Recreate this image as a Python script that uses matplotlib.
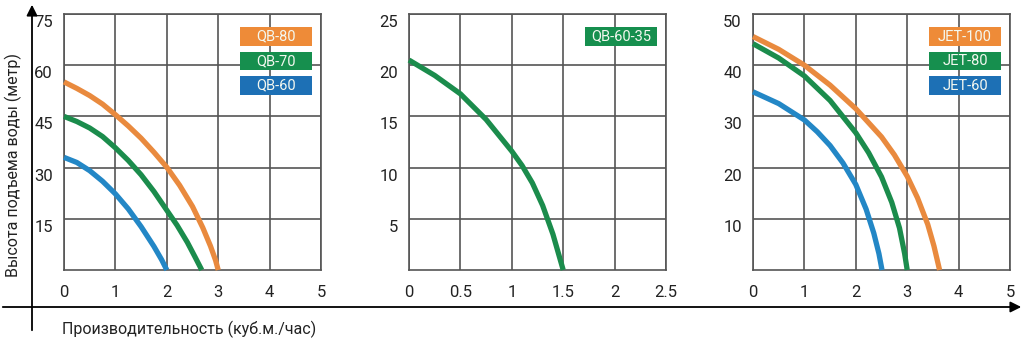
import matplotlib
matplotlib.use("Agg")
import matplotlib.pyplot as plt
from matplotlib.patches import Rectangle
from matplotlib.transforms import ScaledTranslation

plt.rcParams['font.family'] = ['Roboto', 'DejaVu Sans']

# --- data (flow m3/h, head m) ---
qb80_x = [0, 0.25, 0.5, 0.75, 1, 1.25, 1.5, 1.75, 2, 2.25, 2.5, 2.7, 2.85, 2.95, 3.0]
qb80_y = [55.1, 53.2, 51.1, 48.6, 45.5, 42.2, 38.6, 34.5, 30.1, 24.8, 18.6, 12.4, 7.0, 2.8, 0]
qb70_x = [0, 0.25, 0.5, 0.75, 1, 1.25, 1.5, 1.75, 2, 2.2, 2.4, 2.55, 2.68]
qb70_y = [45, 43.5, 41.6, 39.1, 35.8, 32.1, 27.9, 23.0, 17.5, 13.1, 8.1, 3.8, 0]
qb60_x = [0, 0.25, 0.5, 0.75, 1, 1.25, 1.5, 1.75, 1.9, 2.0]
qb60_y = [33, 31.5, 29.1, 26.0, 22.3, 17.9, 12.7, 6.9, 3.0, 0]

qb6035_x = [0, 0.25, 0.5, 0.75, 1.0, 1.1, 1.2, 1.3, 1.4, 1.5]
qb6035_y = [20.5, 19.0, 17.2, 14.7, 11.6, 10.2, 8.5, 6.3, 3.5, 0]

jet100_x = [0, 0.5, 1, 1.5, 2, 2.5, 2.75, 3, 3.2, 3.4, 3.52, 3.63]
jet100_y = [45.6, 43.1, 40.0, 36.1, 31.5, 26.0, 22.5, 18.3, 14.1, 8.9, 4.7, 0]
jet80_x = [0, 0.5, 1, 1.5, 2, 2.25, 2.5, 2.7, 2.85, 2.95, 3.0]
jet80_y = [44.2, 41.4, 37.9, 33.1, 26.8, 22.9, 18.2, 13.2, 8.2, 3.2, 0]
jet60_x = [0, 0.5, 1, 1.25, 1.5, 1.75, 2, 2.2, 2.35, 2.45, 2.51]
jet60_y = [34.8, 32.5, 29.3, 27.0, 24.3, 20.9, 16.7, 11.9, 7.2, 3.2, 0]

ORANGE = '#e98a3e'
GREEN = '#1b8c4c'
BLUE = '#2387c6'
BOX_ORANGE = '#ee8b38'
BOX_GREEN = '#168f4e'
BOX_BLUE = '#1d70b5'
GRID = '#555555'

panels = [
    dict(left=64, xmax=5, xticks=[0, 1, 2, 3, 4, 5], xlabels=['0', '1', '2', '3', '4', '5'],
         ymax=75, yticks=[15, 30, 45, 60, 75],
         curves=[(qb80_x, qb80_y, ORANGE), (qb70_x, qb70_y, GREEN), (qb60_x, qb60_y, BLUE)],
         legend=[('QB-80', BOX_ORANGE), ('QB-70', BOX_GREEN), ('QB-60', BOX_BLUE)]),
    dict(left=409, xmax=2.5, xticks=[0, 0.5, 1, 1.5, 2, 2.5], xlabels=['0', '0.5', '1', '1.5', '2', '2.5'],
         ymax=25, yticks=[5, 10, 15, 20, 25],
         curves=[(qb6035_x, qb6035_y, GREEN)],
         legend=[('QB-60-35', BOX_GREEN)]),
    dict(left=753, xmax=5, xticks=[0, 1, 2, 3, 4, 5], xlabels=['0', '1', '2', '3', '4', '5'],
         ymax=50, yticks=[10, 20, 30, 40, 50],
         curves=[(jet100_x, jet100_y, ORANGE), (jet80_x, jet80_y, GREEN), (jet60_x, jet60_y, BLUE)],
         legend=[('JET-100', BOX_ORANGE), ('JET-80', BOX_GREEN), ('JET-60', BOX_BLUE)]),
]

W, H = 1032, 344
fig = plt.figure(figsize=(W / 100, H / 100), dpi=100)

for p in panels:
    ax = fig.add_axes([p['left'] / W, (H - 270) / H, 257 / W, 256 / H])
    ax.set_xlim(0, p['xmax'])
    ax.set_ylim(0, p['ymax'])
    ax.set_xticks(p['xticks'])
    ax.set_xticklabels(p['xlabels'])
    ax.set_yticks(p['yticks'])
    ax.grid(True, color=GRID, linewidth=1.2)
    ax.set_axisbelow(True)
    for s in ax.spines.values():
        s.set_color(GRID)
        s.set_linewidth(1.2)
    ax.tick_params(length=0, labelsize=12, colors='#222222', pad=8)
    ax.tick_params(axis='x', pad=11)
    for lab in ax.get_yticklabels():
        lab.set_transform(lab.get_transform() + ScaledTranslation(0, -0.07, fig.dpi_scale_trans))
    for x, y, c in p['curves']:
        ax.plot(x, y, color=c, linewidth=3.8, solid_capstyle='butt', solid_joinstyle='round',
                clip_on=False, zorder=3)
    for i, (name, c) in enumerate(p['legend']):
        y0 = 0.875 - i * 0.0957
        ax.add_patch(Rectangle((0.685, y0), 0.28, 0.074, transform=ax.transAxes,
                               facecolor=c, edgecolor='none', zorder=4))
        ax.text(0.825, y0 + 0.037, name, transform=ax.transAxes, ha='center', va='center',
                color='#f4f8f0', fontsize=10.5, zorder=5)

# outer axis arrows
ov = fig.add_axes([0, 0, 1, 1])
ov.set_xlim(0, W)
ov.set_ylim(H, 0)
ov.axis('off')
ov.annotate('', xy=(32, 2), xytext=(32, 333),
            arrowprops=dict(arrowstyle='-|>', color='black', lw=1.3, mutation_scale=16))
ov.annotate('', xy=(1024, 307), xytext=(0, 307),
            arrowprops=dict(arrowstyle='-|>', color='black', lw=1.3, mutation_scale=16))
ov.text(13, 165, 'Высота подъема воды (метр)', rotation=90, ha='center', va='center',
        fontsize=11.5, color='#222222')
ov.text(62, 329, 'Производительность (куб.м./час)', ha='left', va='center',
        fontsize=11.5, color='#222222')

fig.savefig('out.png', dpi=100)
